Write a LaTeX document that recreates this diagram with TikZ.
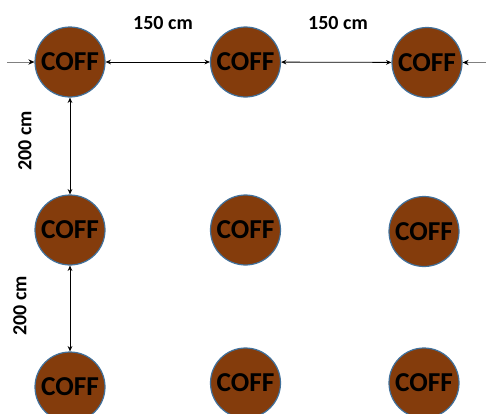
\documentclass[tikz,border=0pt]{standalone}
\usepackage{fontspec}
\setmainfont{Carlito}
\usepackage{xcolor}
\usetikzlibrary{arrows.meta,positioning}

\definecolor{coffbrown}{HTML}{843C0C}
\definecolor{coffblue}{HTML}{41719C}

\begin{document}
\begin{tikzpicture}[x=0.75pt,y=-0.75pt,
      coff/.style={circle, draw=coffblue, line width=0.9pt, fill=coffbrown,
        minimum size=52.5pt, inner sep=0pt, font=\fontsize{20.5}{20.5}\selectfont\bfseries},
      lbl/.style={font=\fontsize{15}{15}\selectfont\bfseries, inner sep=0pt},
      dist/.style={line width=0.6pt, {Stealth[length=4pt,width=3.5pt]}-{Stealth[length=4pt,width=3.5pt]}},
      feed/.style={line width=0.7pt, draw=gray, -{Stealth[length=4.5pt,width=4pt,color=black]}}]
    \useasboundingbox (0,0) rectangle (486,414);
    \node[coff] (n11) at (70,62)    {COFF};
    \node[coff] (n12) at (245.5,62) {COFF};
    \node[coff] (n13) at (427,62.5) {COFF};
    \node[coff] (n21) at (70,230)   {COFF};
    \node[coff] (n22) at (245.5,230) {COFF};
    \node[coff] (n23) at (424,231.5) {COFF};
    \node[coff] (n31) at (70,387)   {COFF};
    \node[coff] (n32) at (245.5,383) {COFF};
    \node[coff] (n33) at (424,383)  {COFF};
    \coordinate (inL) at (7,62);
    \coordinate (inR) at (486,62.5);
    \draw[feed] (inL)--(n11);
    \draw[feed] (inR)--(n13);
    \draw[dist] (n11)--(n12);
    \draw[dist] (n12)--(n13);
    \draw[dist] (n11)--(n21);
    \draw[dist] (n21)--(n31);
    \node[lbl] (h1) at (163,23) {150 cm};
    \node[lbl] (h2) at (338,23) {150 cm};
    \node[lbl,rotate=90] (v1) at (25,141) {200 cm};
    \node[lbl,rotate=90] (v2) at (20,306) {200 cm};
  \end{tikzpicture}
\end{document}
